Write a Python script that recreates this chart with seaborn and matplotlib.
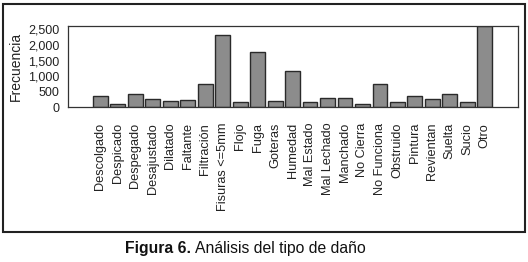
import matplotlib
matplotlib.use("Agg")
import matplotlib.pyplot as plt
import seaborn as sns
import pandas as pd
from matplotlib.patches import Rectangle

categories = ["Descolgado", "Despicado", "Despegado", "Desajustado", "Dilatado",
              "Faltante", "Filtración", "Fisuras <=5mm", "Flojo", "Fuga", "Goteras",
              "Humedad", "Mal Estado", "Mal Lechado", "Manchado", "No Cierra",
              "No Funciona", "Obstruido", "Pintura", "Revientan", "Suelta", "Sucio", "Otro"]
values = [375, 120, 420, 270, 200, 250, 750, 2330, 175, 1765, 205,
          1165, 165, 295, 295, 120, 750, 165, 375, 270, 440, 175, 2590]
yticks = [0, 500, 1000, 1500, 2000, 2500]
ytick_labels = ["0", "500", "1,000", "1,500", "2,000", "2,500"]

sns.set_style("white")
plt.rcParams['font.family'] = ['Liberation Sans', 'DejaVu Sans']

df = pd.DataFrame({"cat": categories, "val": values})

fig = plt.figure(figsize=(5.28, 2.62), dpi=100)
ax = fig.add_axes([68/528, 1-107.5/262, (518-68)/528, (107.5-26)/262])

sns.barplot(data=df, x="cat", y="val", ax=ax, color="#8c8c8c", width=0.85,
            edgecolor="#2a2a2a", linewidth=1.0, saturation=1)

ax.set_xlim(-1.85, len(categories) - 1 + 1.9)
ax.set_ylim(0, 2605)
ax.set_yticks(yticks)
ax.set_yticklabels(ytick_labels, fontsize=9, color="#222222")
ax.set_xticks(range(len(categories)))
ax.set_xticklabels(categories, rotation=90, fontsize=9.2, color="#222222")
ax.set_xlabel("")
ax.set_ylabel("Frecuencia", fontsize=10, color="#222222", labelpad=4)
ax.tick_params(axis="x", direction="out", length=9, width=0.9, color="#222222", pad=2)
ax.tick_params(axis="y", direction="out", length=4, width=0.9, color="#222222", pad=2)
for s in ax.spines.values():
    s.set_color("#333333")
    s.set_linewidth(0.9)
    s.set_visible(True)

# outer frame
fig.patches.append(Rectangle((3/528, 1-231.5/262), (525-3)/528, (231.5-3.5)/262,
                             transform=fig.transFigure, fill=False,
                             edgecolor="#222222", linewidth=1.5))

ycap = 1 - 249/262
t1 = fig.text(125/528, ycap, "Figura 6.", ha="left", va="center",
              fontsize=11.3, fontweight="bold", color="#111111")
fig.canvas.draw()
bb = t1.get_window_extent(renderer=fig.canvas.get_renderer())
x2 = (bb.x1 + 4) / fig.bbox.width
fig.text(x2, ycap, "Análisis del tipo de daño", ha="left", va="center",
         fontsize=11.3, color="#111111")

fig.savefig("out.png", dpi=100)
